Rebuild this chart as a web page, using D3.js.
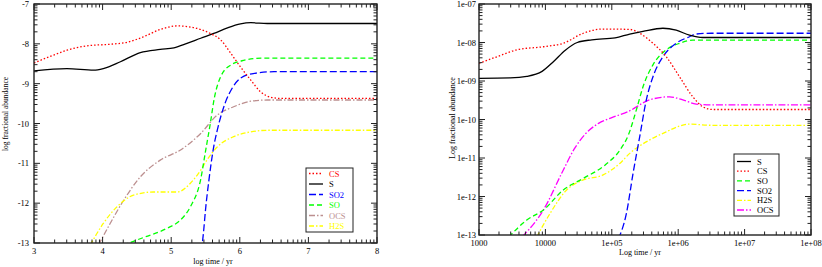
<!DOCTYPE html>
<html><head><meta charset="utf-8">
<script src="https://cdn.jsdelivr.net/npm/d3@7"></script>
<style>
html,body{margin:0;padding:0;background:#fff;}
svg{display:block;}
text{font-family:"Liberation Serif","Times New Roman",serif;}
</style></head>
<body>
<svg id="c" width="822" height="267"></svg>
<script>
// ---------- DATA: left panel (log10 time / yr, log10 abundance) ----------
const leftXTicks = [3,4,5,6,7,8];
const leftYTicks = [-7,-8,-9,-10,-11,-12,-13];
const leftCS  = [[3,-8.48],[3.23,-8.32],[3.48,-8.16],[3.77,-8.05],[4.11,-8.01],[4.36,-7.96],[4.6,-7.82],[4.84,-7.64],[5.09,-7.55],[5.25,-7.57],[5.43,-7.64],[5.57,-7.74],[5.72,-7.9],[5.87,-8.24],[6.01,-8.58],[6.16,-8.91],[6.3,-9.2],[6.45,-9.34],[6.6,-9.37],[8,-9.37]];
const leftS   = [[3,-8.68],[3.48,-8.62],[3.87,-8.66],[4.01,-8.62],[4.26,-8.45],[4.55,-8.22],[4.84,-8.14],[5.04,-8.1],[5.23,-7.99],[5.43,-7.86],[5.62,-7.74],[5.82,-7.6],[6.01,-7.5],[6.16,-7.47],[6.4,-7.49],[8,-7.49]];
const leftSO2 = [[5.44,-13.2],[5.47,-12.75],[5.5,-12.17],[5.55,-11.42],[5.62,-10.58],[5.67,-10.18],[5.79,-9.47],[5.88,-9.14],[6.02,-8.85],[6.22,-8.74],[6.5,-8.7],[8,-8.7]];
const leftSO  = [[4.3,-13.05],[4.6,-12.86],[4.94,-12.63],[5.13,-12.43],[5.28,-12.09],[5.43,-11.4],[5.5,-10.7],[5.57,-10.0],[5.63,-9.35],[5.72,-8.83],[5.87,-8.53],[6.07,-8.41],[6.31,-8.36],[8,-8.36]];
const leftOCS = [[3.94,-13.05],[4.11,-12.51],[4.31,-11.92],[4.55,-11.34],[4.84,-10.92],[5.13,-10.67],[5.43,-10.25],[5.67,-9.79],[5.91,-9.58],[6.16,-9.44],[6.4,-9.41],[8,-9.41]];
const leftH2S = [[3.82,-13.05],[4.01,-12.51],[4.21,-12.09],[4.45,-11.8],[4.74,-11.72],[5.09,-11.72],[5.28,-11.5],[5.43,-11.17],[5.52,-10.92],[5.67,-10.59],[5.91,-10.33],[6.16,-10.21],[6.4,-10.17],[8,-10.17]];

// ---------- DATA: right panel (log10 time / yr, log10 abundance) ----------
const rightXTicks = [1e3,1e4,1e5,1e6,1e7,1e8];
const rightXLabels = ["1000","10000","1e+05","1e+06","1e+07","1e+08"];
const rightYTicks = [1e-7,1e-8,1e-9,1e-10,1e-11,1e-12,1e-13];
const rightYLabels = ["1e-07","1e-08","1e-09","1e-10","1e-11","1e-12","1e-13"];
const rightS   = [[3,-8.93],[3.47,-8.92],[3.72,-8.88],[3.95,-8.75],[4.12,-8.5],[4.3,-8.2],[4.48,-8.0],[4.7,-7.93],[5.05,-7.88],[5.27,-7.78],[5.47,-7.71],[5.77,-7.63],[5.97,-7.68],[6.17,-7.81],[6.37,-7.87],[8,-7.87]];
const rightCS  = [[3,-8.54],[3.27,-8.37],[3.57,-8.19],[3.97,-8.11],[4.27,-8.02],[4.57,-7.76],[4.87,-7.65],[5.27,-7.66],[5.42,-7.76],[5.62,-8.02],[5.82,-8.37],[6.02,-8.89],[6.22,-9.41],[6.37,-9.67],[6.52,-9.74],[8,-9.74]];
const rightSO  = [[3.45,-13.05],[3.72,-12.61],[3.97,-12.35],[4.27,-11.83],[4.57,-11.53],[4.9,-11.18],[5.12,-10.8],[5.25,-10.4],[5.37,-9.75],[5.47,-9.15],[5.62,-8.58],[5.82,-8.19],[6.02,-8.02],[6.22,-7.94],[8,-7.94]];
const rightSO2 = [[5.1,-13.1],[5.22,-12.44],[5.32,-11.4],[5.42,-10.45],[5.52,-9.49],[5.62,-8.89],[5.77,-8.37],[5.97,-8.02],[6.17,-7.85],[6.27,-7.78],[6.5,-7.76],[8,-7.76]];
const rightH2S = [[3.87,-13.05],[4.07,-12.44],[4.32,-11.83],[4.57,-11.57],[4.87,-11.44],[5.12,-11.14],[5.27,-10.88],[5.57,-10.53],[5.82,-10.32],[6.02,-10.17],[6.17,-10.12],[6.5,-10.15],[8,-10.15]];
const rightOCS = [[3.65,-13.05],[3.97,-12.35],[4.27,-11.31],[4.44,-10.75],[4.6,-10.38],[4.8,-10.1],[5.0,-9.95],[5.24,-9.8],[5.57,-9.49],[5.87,-9.41],[6.07,-9.49],[6.27,-9.6],[6.5,-9.62],[8,-9.62]];

// ---------- STYLES ----------
const ST = {
  CS:  {color:"#ff0000", dash:"1.5,2"},
  S:   {color:"#000000", dash:null},
  SO2: {color:"#0000ff", dash:"7,3"},
  SO:  {color:"#00ff00", dash:"5,3"},
  OCS: {color:"#bc8f8f", dash:"6,2,1.5,2"},
  H2S: {color:"#ffff00", dash:"5,2,1.5,2"},
  OCSm:{color:"#ff00ff", dash:"7,2,1.5,2"}
};

const svg = d3.select("#c");

function frameAndTicks(g, x, y, xMajor, yMajor, xMinor, yMinor, x0, x1, y0, y1){
  const tk = g.append("g").attr("stroke","#222").attr("stroke-width",1);
  xMajor.forEach(v=>{
    tk.append("line").attr("x1",x(v)).attr("x2",x(v)).attr("y1",y1).attr("y2",y1-6);
    tk.append("line").attr("x1",x(v)).attr("x2",x(v)).attr("y1",y0).attr("y2",y0+6);
  });
  xMinor.forEach(v=>{
    tk.append("line").attr("x1",x(v)).attr("x2",x(v)).attr("y1",y1).attr("y2",y1-3.5);
    tk.append("line").attr("x1",x(v)).attr("x2",x(v)).attr("y1",y0).attr("y2",y0+3.5);
  });
  yMajor.forEach(v=>{
    tk.append("line").attr("y1",y(v)).attr("y2",y(v)).attr("x1",x0).attr("x2",x0+6);
    tk.append("line").attr("y1",y(v)).attr("y2",y(v)).attr("x1",x1).attr("x2",x1-6);
  });
  yMinor.forEach(v=>{
    tk.append("line").attr("y1",y(v)).attr("y2",y(v)).attr("x1",x0).attr("x2",x0+3.5);
    tk.append("line").attr("y1",y(v)).attr("y2",y(v)).attr("x1",x1).attr("x2",x1-3.5);
  });
  g.append("rect").attr("x",x0).attr("y",y0).attr("width",x1-x0).attr("height",y1-y0)
    .attr("fill","none").attr("stroke","#222").attr("stroke-width",1.4);
}

function drawSeries(g, list, x, y, clipId){
  const gg = g.append("g").attr("clip-path",`url(#${clipId})`);
  list.forEach(s=>{
    const line = d3.line().x(d=>x(s.tx(d[0]))).y(d=>y(s.ty(d[1]))).curve(d3.curveMonotoneX);
    gg.append("path").attr("d",line(s.data)).attr("fill","none")
      .attr("stroke",s.st.color).attr("stroke-width",1.3)
      .attr("stroke-dasharray",s.st.dash);
  });
}

function legend(g, items, bx, by, bw, bh, rowY0, rowDy, colored){
  g.append("rect").attr("x",bx).attr("y",by).attr("width",bw).attr("height",bh)
    .attr("fill","#fff").attr("stroke","#222").attr("stroke-width",1);
  items.forEach((it,i)=>{
    const yy = rowY0 + i*rowDy;
    g.append("line").attr("x1",bx+3).attr("x2",bx+17).attr("y1",yy).attr("y2",yy)
      .attr("stroke",it.st.color).attr("stroke-width",1.3).attr("stroke-dasharray",it.st.dash);
    g.append("text").attr("x",bx+23).attr("y",yy+3).attr("font-size",8.5)
      .attr("fill",colored?it.st.color:"#000").text(it.name);
  });
}

const defs = svg.append("defs");

// ---------- LEFT PANEL ----------
{
  const x0=34, x1=377, y0=4, y1=243;
  const x = d3.scaleLinear().domain([3,8]).range([x0,x1]);
  const y = d3.scaleLinear().domain([-13,-7]).range([y1,y0]);
  defs.append("clipPath").attr("id","clipL").append("rect").attr("x",x0).attr("y",y0).attr("width",x1-x0).attr("height",y1-y0);
  const g = svg.append("g");
  const xMinor=[], yMinor=[];
  for(let n=3;n<8;n++) for(let k=2;k<=9;k++) xMinor.push(n+Math.log10(k));
  for(let n=-13;n<-7;n++) for(let k=2;k<=9;k++) yMinor.push(n+Math.log10(k));
  const id = v=>v;
  drawSeries(g,[
    {data:leftOCS,st:ST.OCS,tx:id,ty:id},
    {data:leftH2S,st:ST.H2S,tx:id,ty:id},
    {data:leftSO,st:ST.SO,tx:id,ty:id},
    {data:leftSO2,st:ST.SO2,tx:id,ty:id},
    {data:leftS,st:ST.S,tx:id,ty:id},
    {data:leftCS,st:ST.CS,tx:id,ty:id}
  ],x,y,"clipL");
  frameAndTicks(g,x,y,leftXTicks,leftYTicks,xMinor,yMinor,x0,x1,y0,y1);
  leftXTicks.forEach(v=>g.append("text").attr("x",x(v)).attr("y",y1+11).attr("text-anchor","middle").attr("font-size",8.5).text(v));
  leftYTicks.forEach(v=>g.append("text").attr("x",x0-5).attr("y",y(v)+3).attr("text-anchor","end").attr("font-size",8.5).text(v));
  g.append("text").attr("x",213).attr("y",264).attr("text-anchor","middle").attr("font-size",8).text("log time / yr");
  g.append("text").attr("transform","translate(8,114) rotate(-90)").attr("text-anchor","middle").attr("font-size",7.5).text("log fractional abundance");
  legend(g,[
    {name:"CS",st:ST.CS},{name:"S",st:ST.S},{name:"SO2",st:ST.SO2},
    {name:"SO",st:ST.SO},{name:"OCS",st:ST.OCS},{name:"H2S",st:ST.H2S}
  ],306,168,47,64,173.5,10.5,true);
}

// ---------- RIGHT PANEL ----------
{
  const x0=479, x1=811, y0=4, y1=235;
  const x = d3.scaleLog().domain([1e3,1e8]).range([x0,x1]);
  const y = d3.scaleLog().domain([1e-13,1e-7]).range([y1,y0]);
  defs.append("clipPath").attr("id","clipR").append("rect").attr("x",x0).attr("y",y0).attr("width",x1-x0).attr("height",y1-y0);
  const g = svg.append("g");
  const xMinor=[], yMinor=[];
  for(let n=3;n<8;n++) for(let k=2;k<=9;k++) xMinor.push(k*Math.pow(10,n));
  for(let n=-13;n<-7;n++) for(let k=2;k<=9;k++) yMinor.push(k*Math.pow(10,n));
  const p = v=>Math.pow(10,v);
  drawSeries(g,[
    {data:rightH2S,st:ST.H2S,tx:p,ty:p},
    {data:rightOCS,st:ST.OCSm,tx:p,ty:p},
    {data:rightSO,st:ST.SO,tx:p,ty:p},
    {data:rightSO2,st:ST.SO2,tx:p,ty:p},
    {data:rightCS,st:ST.CS,tx:p,ty:p},
    {data:rightS,st:ST.S,tx:p,ty:p}
  ],x,y,"clipR");
  frameAndTicks(g,x,y,rightXTicks,rightYTicks,xMinor,yMinor,x0,x1,y0,y1);
  rightXTicks.forEach((v,i)=>g.append("text").attr("x",x(v)).attr("y",y1+11).attr("text-anchor","middle").attr("font-size",8.5).text(rightXLabels[i]));
  rightYTicks.forEach((v,i)=>g.append("text").attr("x",x0-3).attr("y",y(v)+3).attr("text-anchor","end").attr("font-size",8.5).text(rightYLabels[i]));
  g.append("text").attr("x",640).attr("y",255).attr("text-anchor","middle").attr("font-size",8).text("Log time / yr");
  g.append("text").attr("transform","translate(455,118) rotate(-90)").attr("text-anchor","middle").attr("font-size",8).text("Log fractional abundance");
  legend(g,[
    {name:"S",st:ST.S},{name:"CS",st:ST.CS},{name:"SO",st:ST.SO},
    {name:"SO2",st:ST.SO2},{name:"H2S",st:ST.H2S},{name:"OCS",st:ST.OCSm}
  ],734,154,45,62,161.5,9.7,false);
}
</script>
</body></html>
